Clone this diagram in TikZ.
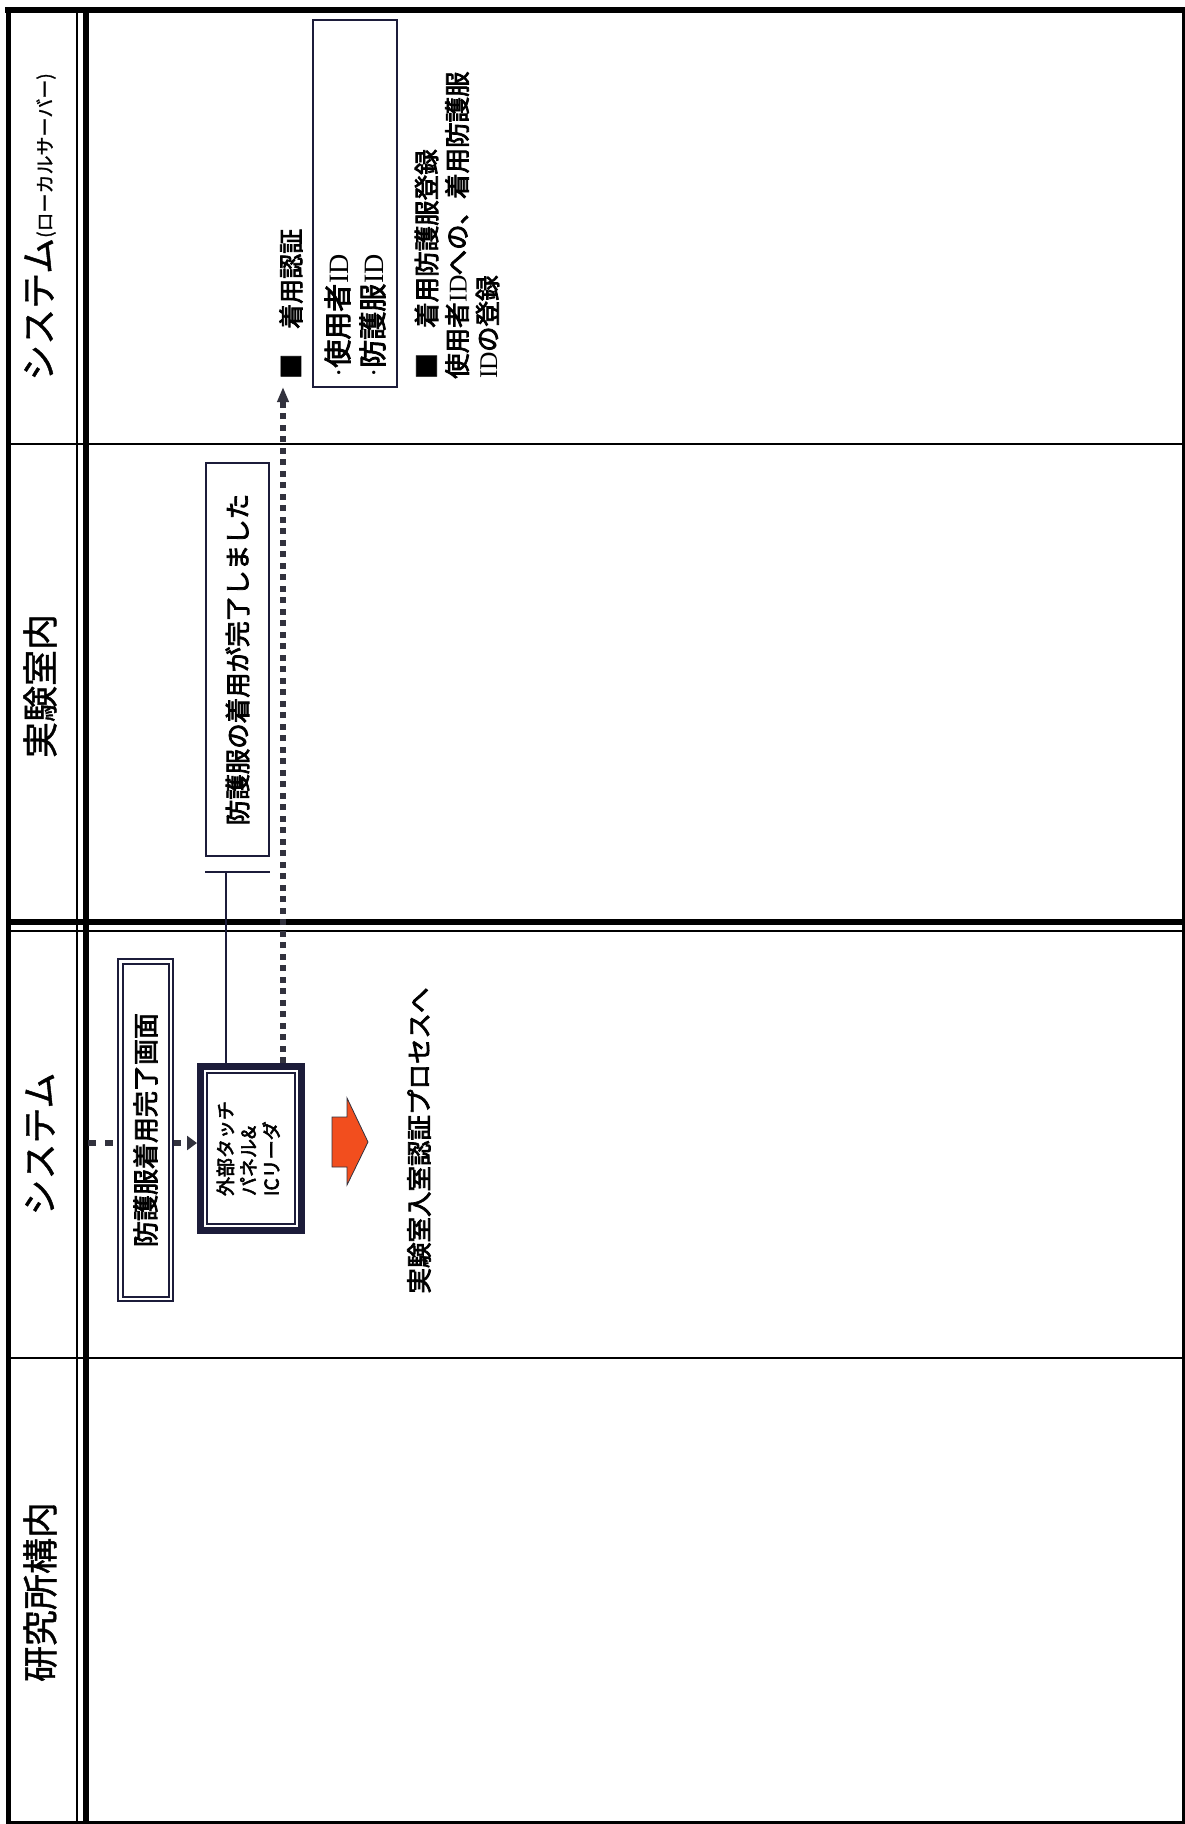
\documentclass[tikz,border=0pt]{standalone}
\usepackage{fontspec}
\usepackage{graphicx}
\usetikzlibrary{arrows.meta}
\newfontfamily\jp{Noto Sans CJK JP}
\newfontfamily\jpm{Noto Sans CJK JP}[FakeBold=3]
\newfontfamily\jpl{Noto Sans CJK JP}[FakeBold=1.2]
\newfontfamily\lser{Liberation Serif}
\definecolor{boxc}{RGB}{28,28,58}
\definecolor{dotc}{RGB}{50,50,62}
\definecolor{orng}{RGB}{242,78,30}
\begin{document}
\begin{tikzpicture}[x=1pt,y=-1pt,
  lane/.style={line width=2pt, black},
  hdr/.style={rotate=90, inner sep=0pt, font=\jpl\fontsize{36}{40}\selectfont},
  vtext/.style={rotate=90, inner sep=0pt},
  boxline/.style={draw=boxc, fill=white, inner sep=0pt},
  conn/.style={boxc, line width=1.8pt}
]
\useasboundingbox (0,0) rectangle (1185,1824);
\fill[white] (0,0) rectangle (1185,1824);

% outer frame
\draw[line width=6pt] (5,10) -- (1185,10);
\draw[line width=5pt] (8,8) -- (8,1824);
\draw[line width=3pt] (1183.5,8) -- (1183.5,1824);
\draw[line width=3pt] (6,1822.5) -- (1185,1822.5);
% header column
\draw[line width=2pt] (77,10) -- (77,1822);
\draw[line width=6pt] (85.5,10) -- (85.5,1822);
% lane separators
\draw[lane] (8,444) -- (1183,444);
\draw[line width=6.5pt] (8,922) -- (1183,922);
\draw[lane] (8,930.5) -- (1183,930.5);
\draw[lane] (8,1358) -- (1183,1358);

% lane headers
\node[hdr] (h1) at (40,227) {システム{\fontsize{19}{20}\selectfont(ローカルサーバー)}};
\node[hdr] (h2) at (40,686) {実験室内};
\node[hdr] (h3) at (40,1144) {システム};
\node[hdr] (h4) at (40,1592) {研究所構内};

% lane 1: local server
\node[draw=boxc, line width=1.5pt, rotate=90, text width=347pt, inner xsep=10pt, inner ysep=0pt,
      minimum height=84pt, align=left, font=\jpm\fontsize{28}{35}\selectfont]
      (ids) at (355,203.5) {{\lser ·}使用者{\lser ID}\\{\lser ·}防護服{\lser ID}};
\node[vtext, anchor=west, font=\jpm\fontsize{25}{30}\selectfont] (auth) at (291,379) {■　着用認証};
\node[vtext, anchor=west, align=left, font=\jpm\fontsize{25.5}{30.5}\selectfont] (reg) at (457,379)
      {■　着用防護服登録\\使用者{\lser ID}への、着用防護服\\{\lser ID}の登録};

% lane 2: lab room
\node[boxline, line width=2pt, minimum width=63pt, minimum height=393pt,
      font=\jpm\fontsize{25.5}{28}\selectfont] (msg) at (237.5,659.5) {\rotatebox{90}{防護服の着用が完了しました}};

% lane 3: system
\node[draw=boxc, line width=7pt, fill=white, minimum width=101pt, minimum height=164pt, inner sep=0pt,
      font=\jpm\fontsize{19}{23}\selectfont] (touch) at (251,1148.5)
      {\rotatebox{90}{\begin{tabular}{@{}l@{}}外部タッチ\\パネル\&\\ICリーダ\end{tabular}}};
\draw[boxc, line width=1.5pt] ([shift={(10pt,-10pt)}]touch.north west) rectangle ([shift={(-10pt,10pt)}]touch.south east);

\coordinate (hstart) at (88,1143);
\draw[dotc, line width=6.5pt, dash pattern=on 8pt off 9pt, -{Triangle[length=10pt,width=14pt]}]
      (hstart) -- (hstart -| touch.west);

\node[draw=boxc, double=white, line width=2pt, double distance=2.5pt, fill=white, inner sep=0pt,
      minimum width=50.5pt, minimum height=337.5pt, font=\jpm\fontsize{26}{28}\selectfont]
      (comp) at (145.5,1130) {\rotatebox{90}{防護服着用完了画面}};

% T-bar and connector
\coordinate (tbL) at (205,872);
\coordinate (tbR) at (270,872);
\coordinate (tbM) at (226,872);
\draw[conn] (tbL) -- (tbR);
\draw[conn] (tbM) -- (tbM |- touch.north);

% dotted arrow to local server
\coordinate (tip) at (283,387);
\draw[dotc, line width=6pt, dash pattern=on 6pt off 5.5pt, -{Triangle[length=15pt,width=11pt]}]
      (tip |- touch.north) -- (tip);

% orange block arrow
\draw[fill=orng, draw=dotc, line width=0.8pt]
  (332,1117) -- (347,1117) -- (347,1098) -- (368,1142) -- (347,1185) -- (347,1167) -- (332,1167) -- cycle;

\node[vtext, font=\jpm\fontsize{25.5}{28}\selectfont] (next) at (419,1140.5) {実験室入室認証プロセスへ};
\end{tikzpicture}
\end{document}
